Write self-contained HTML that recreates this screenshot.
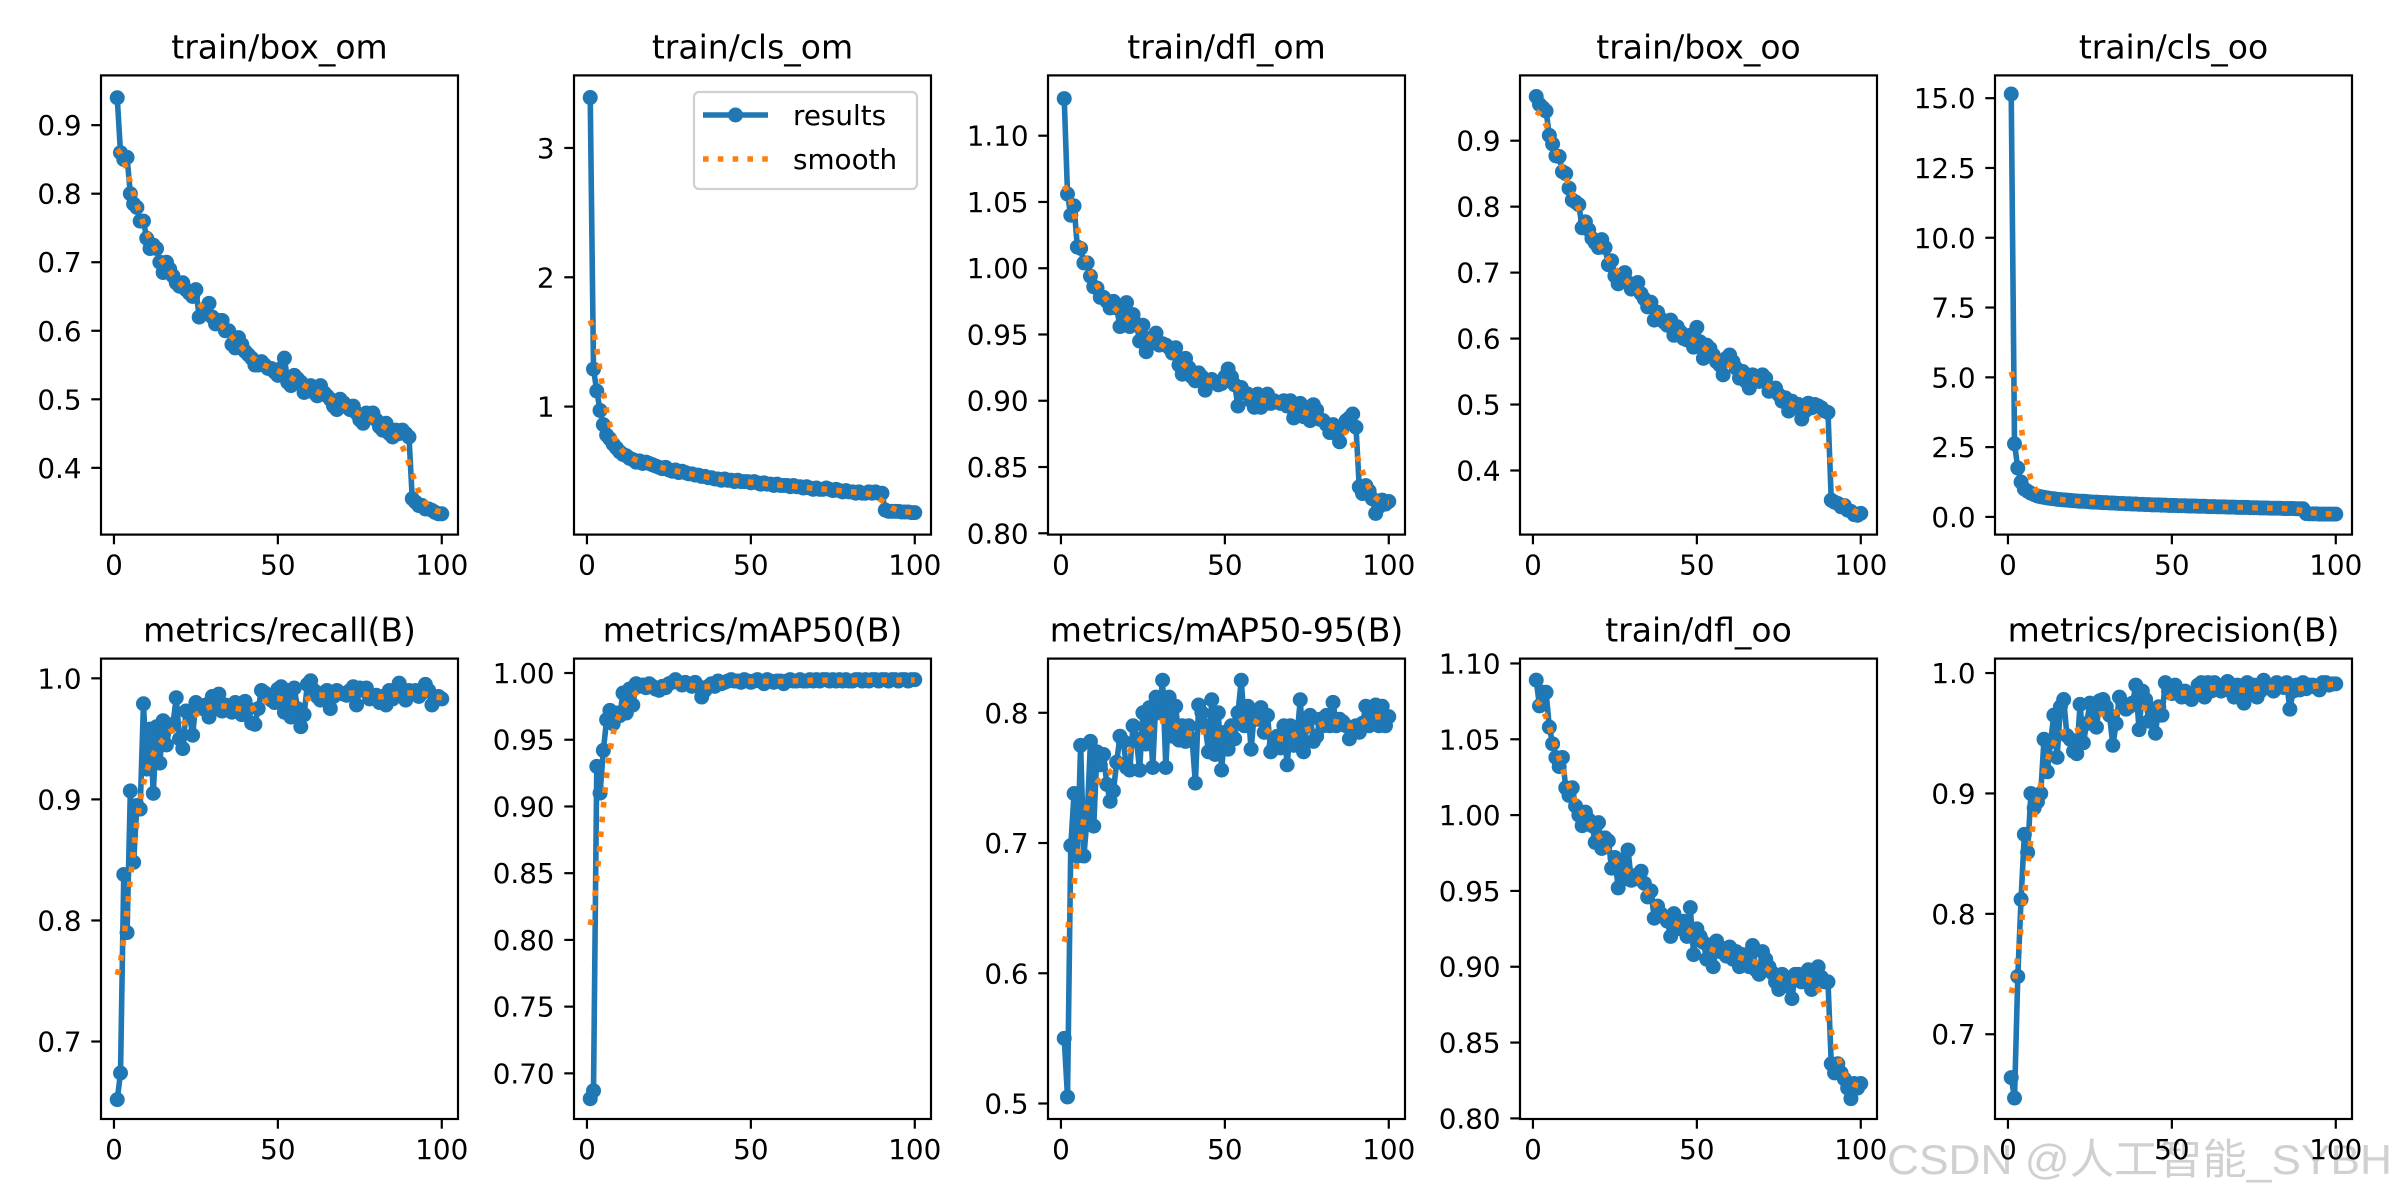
<!DOCTYPE html>
<html><head><meta charset="utf-8">
<style>
html,body{margin:0;padding:0;background:#fff;}
svg{display:block;font-family:"DejaVu Sans","Liberation Sans",sans-serif;}
</style></head>
<body>
<svg id="fig" width="2400" height="1200" viewBox="0 0 2400 1200" xmlns="http://www.w3.org/2000/svg">
<rect x="0" y="0" width="2400" height="1200" fill="#fff"/>
<text x="1887" y="1174" font-size="42" textLength="505" lengthAdjust="spacingAndGlyphs" fill="#d0d0d0" font-family="'Liberation Sans','Noto Sans CJK SC',sans-serif">CSDN @人工智能_SYBH</text>
</svg>
<script>
const titles = ["train/box_om","train/cls_om","train/dfl_om","train/box_oo","train/cls_oo","metrics/recall(B)","metrics/mAP50(B)","metrics/mAP50-95(B)","train/dfl_oo","metrics/precision(B)"];
const xTicks = [0,50,100];
const boxOm = [0.94,0.86,0.85,0.853,0.80,0.785,0.78,0.76,0.76,0.735,
0.72,0.725,0.72,0.70,0.685,0.70,0.69,0.68,0.67,0.665,
0.67,0.66,0.655,0.65,0.66,0.62,0.625,0.63,0.64,0.62,
0.61,0.615,0.615,0.60,0.60,0.58,0.575,0.59,0.58,0.57,
0.565,0.56,0.55,0.55,0.555,0.55,0.545,0.545,0.54,0.535,
0.545,0.56,0.525,0.52,0.535,0.53,0.525,0.51,0.515,0.52,
0.51,0.505,0.52,0.51,0.505,0.50,0.49,0.485,0.50,0.495,
0.49,0.485,0.49,0.48,0.47,0.465,0.48,0.475,0.48,0.47,
0.46,0.455,0.465,0.45,0.445,0.455,0.45,0.455,0.45,0.445,
0.355,0.35,0.345,0.345,0.34,0.34,0.338,0.335,0.333,0.333];
const clsOm = [3.39,1.29,1.12,0.97,0.86,0.78,0.75,0.71,0.68,0.65,
0.63,0.62,0.60,0.59,0.57,0.58,0.56,0.57,0.56,0.55,
0.54,0.53,0.52,0.53,0.51,0.50,0.51,0.49,0.50,0.49,
0.48,0.48,0.47,0.47,0.46,0.46,0.45,0.45,0.44,0.44,
0.43,0.44,0.43,0.43,0.42,0.43,0.42,0.42,0.42,0.41,
0.42,0.41,0.40,0.41,0.40,0.40,0.39,0.40,0.39,0.39,
0.39,0.38,0.39,0.38,0.38,0.37,0.38,0.37,0.36,0.37,
0.36,0.36,0.37,0.36,0.35,0.36,0.35,0.34,0.35,0.34,
0.34,0.33,0.34,0.33,0.33,0.34,0.33,0.34,0.33,0.33,
0.20,0.19,0.19,0.19,0.19,0.185,0.185,0.185,0.18,0.18];
const dflOm = [1.128,1.056,1.040,1.047,1.016,1.015,1.004,1.004,0.994,0.986,
0.985,0.978,0.978,0.975,0.970,0.975,0.970,0.956,0.960,0.974,
0.956,0.965,0.958,0.945,0.957,0.937,0.947,0.944,0.951,0.942,
0.943,0.942,0.940,0.936,0.940,0.927,0.920,0.932,0.925,0.918,
0.915,0.921,0.918,0.908,0.914,0.916,0.914,0.912,0.913,0.918,
0.924,0.918,0.912,0.896,0.910,0.906,0.905,0.900,0.895,0.905,
0.895,0.900,0.905,0.898,0.900,0.899,0.898,0.900,0.896,0.900,
0.887,0.890,0.898,0.888,0.890,0.885,0.897,0.893,0.886,0.885,
0.882,0.876,0.882,0.875,0.869,0.880,0.885,0.887,0.890,0.880,
0.835,0.830,0.836,0.832,0.826,0.815,0.820,0.825,0.822,0.824];
const boxOo = [0.967,0.955,0.950,0.945,0.908,0.895,0.877,0.876,0.853,0.850,
0.828,0.810,0.807,0.803,0.768,0.777,0.765,0.752,0.745,0.738,
0.750,0.738,0.712,0.718,0.695,0.683,0.692,0.700,0.685,0.675,
0.680,0.685,0.668,0.660,0.648,0.655,0.628,0.640,0.630,0.625,
0.620,0.628,0.605,0.618,0.610,0.600,0.598,0.605,0.587,0.617,
0.595,0.570,0.590,0.585,0.575,0.565,0.560,0.545,0.570,0.575,
0.565,0.555,0.540,0.550,0.535,0.525,0.545,0.540,0.535,0.545,
0.540,0.520,0.522,0.525,0.515,0.505,0.510,0.490,0.505,0.495,
0.500,0.478,0.490,0.502,0.495,0.500,0.498,0.495,0.490,0.488,
0.355,0.352,0.350,0.345,0.347,0.340,0.338,0.333,0.332,0.335];
const clsOo = [15.15,2.62,1.75,1.25,1.00,0.92,0.85,0.80,0.75,0.72,
0.70,0.68,0.66,0.65,0.63,0.62,0.61,0.60,0.59,0.58,
0.57,0.56,0.56,0.55,0.54,0.53,0.53,0.52,0.51,0.51,
0.50,0.50,0.49,0.48,0.48,0.47,0.47,0.46,0.46,0.45,
0.45,0.44,0.44,0.43,0.43,0.43,0.42,0.42,0.41,0.41,
0.41,0.40,0.40,0.40,0.39,0.39,0.39,0.38,0.38,0.38,
0.37,0.37,0.37,0.36,0.36,0.36,0.35,0.35,0.35,0.34,
0.34,0.34,0.34,0.33,0.33,0.33,0.32,0.32,0.32,0.31,
0.31,0.31,0.31,0.30,0.30,0.30,0.30,0.29,0.29,0.29,
0.12,0.11,0.11,0.11,0.10,0.10,0.10,0.10,0.10,0.10];
const recall = [0.652,0.674,0.838,0.790,0.907,0.848,0.895,0.892,0.979,0.925,
0.958,0.905,0.960,0.930,0.965,0.945,0.960,0.962,0.984,0.950,
0.942,0.973,0.970,0.953,0.980,0.976,0.975,0.978,0.968,0.985,
0.975,0.987,0.973,0.978,0.976,0.972,0.980,0.975,0.970,0.981,
0.975,0.963,0.962,0.975,0.990,0.988,0.985,0.982,0.980,0.991,
0.993,0.972,0.990,0.968,0.992,0.975,0.960,0.970,0.995,0.998,
0.990,0.985,0.982,0.988,0.990,0.975,0.985,0.990,0.988,0.987,
0.986,0.990,0.993,0.978,0.992,0.990,0.992,0.983,0.985,0.986,
0.980,0.985,0.978,0.990,0.983,0.990,0.996,0.985,0.982,0.990,
0.988,0.990,0.985,0.988,0.995,0.990,0.978,0.982,0.985,0.983];
const map50 = [0.681,0.687,0.930,0.910,0.942,0.965,0.972,0.962,0.970,0.968,
0.985,0.970,0.988,0.976,0.992,0.990,0.991,0.989,0.992,0.990,
0.988,0.987,0.990,0.989,0.992,0.993,0.995,0.993,0.991,0.993,
0.992,0.990,0.993,0.990,0.982,0.987,0.990,0.992,0.990,0.994,
0.992,0.993,0.994,0.995,0.994,0.994,0.993,0.995,0.994,0.993,
0.994,0.995,0.994,0.992,0.995,0.994,0.993,0.994,0.994,0.992,
0.994,0.995,0.994,0.994,0.995,0.994,0.994,0.995,0.994,0.995,
0.994,0.995,0.995,0.994,0.995,0.994,0.995,0.994,0.995,0.994,
0.994,0.995,0.995,0.994,0.995,0.994,0.995,0.995,0.994,0.995,
0.995,0.994,0.995,0.995,0.994,0.995,0.995,0.994,0.995,0.995];
const map5095 = [0.550,0.505,0.698,0.738,0.690,0.775,0.690,0.720,0.778,0.713,
0.770,0.760,0.768,0.745,0.732,0.740,0.762,0.782,0.778,0.758,
0.756,0.790,0.780,0.756,0.800,0.776,0.804,0.758,0.812,0.800,
0.825,0.758,0.812,0.782,0.805,0.779,0.790,0.778,0.790,0.780,
0.746,0.806,0.800,0.790,0.770,0.810,0.768,0.800,0.756,0.785,
0.772,0.790,0.780,0.800,0.825,0.790,0.805,0.772,0.800,0.795,
0.804,0.785,0.798,0.770,0.775,0.782,0.773,0.790,0.760,0.790,
0.775,0.782,0.810,0.770,0.790,0.798,0.778,0.782,0.795,0.790,
0.798,0.790,0.808,0.790,0.795,0.793,0.790,0.780,0.785,0.790,
0.785,0.792,0.805,0.790,0.800,0.806,0.790,0.805,0.790,0.797];
const dflOo = [1.089,1.072,1.081,1.081,1.058,1.047,1.038,1.032,1.038,1.018,
1.013,1.018,1.006,1.000,0.993,1.002,0.997,0.993,0.982,0.995,
0.978,0.985,0.983,0.965,0.972,0.952,0.970,0.958,0.977,0.957,
0.960,0.958,0.963,0.955,0.946,0.950,0.932,0.940,0.935,0.933,
0.930,0.920,0.935,0.925,0.928,0.930,0.920,0.939,0.908,0.925,
0.920,0.916,0.905,0.912,0.900,0.917,0.910,0.912,0.907,0.913,
0.905,0.910,0.900,0.908,0.905,0.900,0.914,0.898,0.895,0.910,
0.905,0.900,0.896,0.890,0.885,0.895,0.893,0.887,0.879,0.895,
0.895,0.890,0.895,0.898,0.885,0.890,0.900,0.893,0.890,0.890,
0.836,0.830,0.836,0.830,0.826,0.820,0.813,0.823,0.820,0.823];
const precision = [0.664,0.647,0.748,0.812,0.866,0.851,0.900,0.888,0.893,0.900,
0.945,0.918,0.943,0.965,0.930,0.972,0.978,0.948,0.945,0.935,
0.933,0.974,0.942,0.958,0.975,0.965,0.955,0.977,0.978,0.972,
0.965,0.940,0.958,0.980,0.975,0.970,0.972,0.975,0.990,0.953,
0.985,0.978,0.960,0.970,0.950,0.972,0.965,0.992,0.985,0.983,
0.990,0.985,0.980,0.985,0.980,0.978,0.983,0.990,0.992,0.980,
0.992,0.985,0.992,0.988,0.985,0.990,0.993,0.985,0.980,0.990,
0.988,0.975,0.992,0.985,0.990,0.980,0.985,0.994,0.990,0.988,
0.985,0.992,0.990,0.988,0.992,0.970,0.985,0.990,0.986,0.992,
0.987,0.990,0.990,0.988,0.986,0.992,0.992,0.990,0.991,0.991];
const yTicks1 = [0.4,0.5,0.6,0.7,0.8,0.9];
const yTicks2 = [1,2,3];
const yTicks3 = [0.80,0.85,0.90,0.95,1.00,1.05,1.10];
const yTicks5 = [0,2.5,5,7.5,10,12.5,15];
const yTicksR = [0.7,0.8,0.9,1.0];
const yTicksM = [0.70,0.75,0.80,0.85,0.90,0.95,1.00];
const yTicks8 = [0.5,0.6,0.7,0.8];
const yTicks9 = [0.80,0.85,0.90,0.95,1.00,1.05,1.10];

const NS = "http://www.w3.org/2000/svg";
const svg = document.getElementById('fig');
const lefts = [101,574,1048,1520,1995];
const AW = 357;
const rows = [[75.4,534.6],[658.6,1119]];
const panels = [
 {d:boxOm, t:yTicks1, dec:1, lim:[0.3026,0.9726]},
 {d:clsOm, t:yTicks2, dec:0, lim:[0.010,3.561], legend:true},
 {d:dflOm, t:yTicks3, dec:2, lim:[0.799,1.1455]},
 {d:boxOo, t:yTicks1, dec:1, lim:[0.3028,0.999]},
 {d:clsOo, t:yTicks5, dec:1, lim:[-0.634,15.816]},
 {d:recall, t:yTicksR, dec:1, lim:[0.636,1.0163]},
 {d:map50, t:yTicksM, dec:2, lim:[0.6658,1.0108]},
 {d:map5095, t:yTicks8, dec:1, lim:[0.4881,0.8416]},
 {d:dflOo, t:yTicks9, dec:2, lim:[0.7996,1.1032]},
 {d:precision, t:yTicksR, dec:1, lim:[0.6296,1.012]}
];
function el(tag, attrs, parent){const e=document.createElementNS(NS,tag);for(const k in attrs)e.setAttribute(k,attrs[k]);(parent||svg).appendChild(e);return e;}
function gauss(y, s){
  const r=Math.round(4*s), w=[];let sum=0;
  for(let i=-r;i<=r;i++){const v=Math.exp(-0.5*i*i/(s*s));w.push(v);sum+=v;}
  const n=y.length, out=[];
  function at(i){while(i<0||i>=n){if(i<0)i=-i-1;if(i>=n)i=2*n-i-1;}return y[i];}
  for(let i=0;i<n;i++){let a=0;for(let k=-r;k<=r;k++)a+=w[k+r]*at(i+k);out.push(a/sum);}
  return out;
}
panels.forEach((p,idx)=>{
  const L=lefts[idx%5], R=L+AW, T=rows[Math.floor(idx/5)][0], B=rows[Math.floor(idx/5)][1];
  const g=el('g',{});
  
  
  const n=p.d.length;
  const xmin=1-0.05*(n-1), xmax=n+0.05*(n-1);
  const sx=v=>L+(v-xmin)/(xmax-xmin)*AW;
  const sy=v=>B-(v-p.lim[0])/(p.lim[1]-p.lim[0])*(B-T);
  const clipId='clip'+idx;
  const cp=el('clipPath',{id:clipId},g); el('rect',{x:L,y:T,width:AW,height:B-T},cp);
  const pts=p.d.map((v,i)=>sx(i+1).toFixed(2)+','+sy(v).toFixed(2)).join(' ');
  const line=el('polyline',{points:pts,fill:'none',stroke:'#1f77b4','stroke-width':5.6,'stroke-linejoin':'round','clip-path':`url(#${clipId})`},g);
  
  
  p.d.forEach((v,i)=>{
    const c=el('circle',{cx:sx(i+1),cy:sy(v),r:7.5,fill:'#1f77b4'},g);
    
    
  });
  const sm=gauss(p.d,3);
  const spts=sm.map((v,i)=>sx(i+1).toFixed(2)+','+sy(v).toFixed(2)).join(' ');
  const sl=el('polyline',{points:spts,fill:'none',stroke:'#ff7f0e','stroke-width':5.6,'stroke-dasharray':'5.6 9.2'},g);
  
  
  const fr=el('rect',{x:L,y:T,width:AW,height:B-T,fill:'none',stroke:'#000','stroke-width':2.2},g);
  
  
  xTicks.forEach(v=>{
    const x=sx(v);
    el('line',{x1:x,y1:B,x2:x,y2:B+9.7,stroke:'#000','stroke-width':2.2},g);
    const t=el('text',{x:x,y:B+40,'font-size':27.8,'text-anchor':'middle'},g);
    t.textContent=String(v);
    
    
  });
  p.t.forEach(v=>{
    const y=sy(v);
    el('line',{x1:L-9.7,y1:y,x2:L,y2:y,stroke:'#000','stroke-width':2.2},g);
    const t=el('text',{x:L-19.4,y:y+10,'font-size':27.8,'text-anchor':'end'},g);
    t.textContent=v.toFixed(p.dec);
    
    
  });
  const tt=el('text',{x:(L+R)/2,y:T-17,'font-size':33,'text-anchor':'middle'},g);
  tt.textContent=titles[idx];
  
  
  if(p.legend){
    const lg=el('g',{},g);
    
    
    el('rect',{x:694,y:92,width:223,height:97,rx:5,fill:'#fff','fill-opacity':0.8,stroke:'#d0d0d0','stroke-width':2.2},lg);
    el('line',{x1:703,y1:115,x2:768,y2:115,stroke:'#1f77b4','stroke-width':5.6},lg);
    el('circle',{cx:735.5,cy:115,r:7.5,fill:'#1f77b4'},lg);
    const t1=el('text',{x:793,y:125,'font-size':27.8},lg); t1.textContent='results';
    
    
    el('line',{x1:703,y1:159,x2:768,y2:159,stroke:'#ff7f0e','stroke-width':5.6,'stroke-dasharray':'5.6 9.2'},lg);
    const t2=el('text',{x:793,y:169,'font-size':27.8},lg); t2.textContent='smooth';
    
    
  }
});
</script>
</body></html>
